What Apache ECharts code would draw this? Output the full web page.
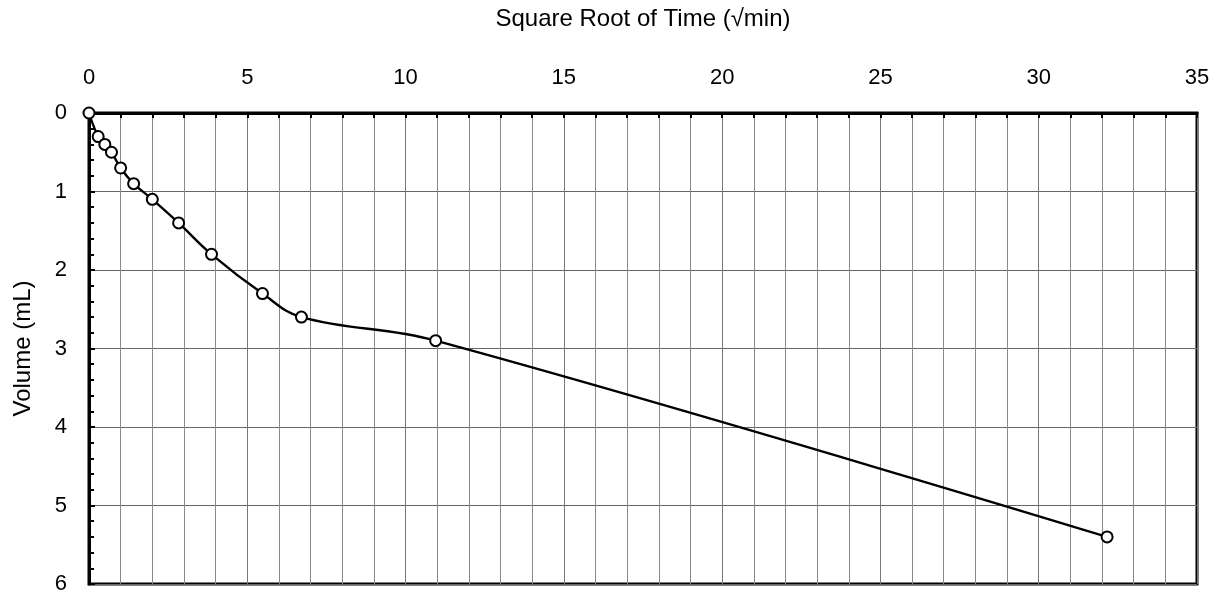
<!DOCTYPE html>
<html>
<head>
<meta charset="utf-8">
<script src="https://cdn.jsdelivr.net/npm/echarts@6/dist/echarts.min.js"></script>
<style>
  html, body { margin: 0; padding: 0; background: #fff; }
  #chart { width: 1223px; height: 595px; }
</style>
</head>
<body>
<div id="chart"></div>
<script>
// data
const sqrtTime = [0, 0.29, 0.5, 0.71, 1.0, 1.41, 2.0, 2.83, 3.87, 5.48, 6.71, 10.95, 32.16];
const volume = [0, 0.3, 0.4, 0.5, 0.7, 0.9, 1.1, 1.4, 1.8, 2.3, 2.6, 2.9, 5.4];
const xTitle = "Square Root of Time (\u221Amin)";
const yTitle = "Volume (mL)";

const points = sqrtTime.map((x, i) => [x, volume[i]]);
const font = "Liberation Sans";

const chart = echarts.init(document.getElementById("chart"));
chart.setOption({
  animation: false,
  textStyle: { fontFamily: font },
  grid: {
    left: 89, top: 113, right: 26, bottom: 11,
    outerBoundsMode: "none",
    show: true, borderColor: "#000", borderWidth: 3
  },
  xAxis: {
    type: "value",
    position: "top",
    min: 0, max: 35, interval: 5,
    name: xTitle,
    nameLocation: "middle",
    nameGap: 82,
    nameTextStyle: { fontSize: 24, color: "#000", fontFamily: font },
    axisLine: { lineStyle: { color: "#000", width: 3 } },
    axisTick: { inside: true, length: 5, lineStyle: { color: "#000", width: 2 } },
    minorTick: { show: true, splitNumber: 5, length: 5, lineStyle: { color: "#000", width: 2 } },
    axisLabel: { fontSize: 22, color: "#000", margin: 24, fontFamily: font },
    splitLine: { show: true, lineStyle: { color: "#777", width: 1 } },
    minorSplitLine: { show: true, lineStyle: { color: "#888", width: 1 } }
  },
  yAxis: {
    type: "value",
    inverse: true,
    min: 0, max: 6, interval: 1,
    name: yTitle,
    nameLocation: "middle",
    nameGap: 54,
    nameRotate: 90,
    nameTextStyle: { fontSize: 24, color: "#000", fontFamily: font },
    axisLine: { show: true, lineStyle: { color: "#000", width: 3 } },
    axisTick: { show: true, inside: true, length: 6, lineStyle: { color: "#000", width: 2 } },
    minorTick: { show: true, splitNumber: 5, length: 5, lineStyle: { color: "#000", width: 2 } },
    axisLabel: { fontSize: 22, color: "#000", margin: 22, fontFamily: font },
    splitLine: { show: true, lineStyle: { color: "#666", width: 1 } }
  },
  series: [{
    type: "line",
    data: points,
    smooth: 0.4,
    clip: false,
    symbol: "circle",
    symbolSize: 11,
    itemStyle: { color: "#fff", borderColor: "#000", borderWidth: 2 },
    lineStyle: { color: "#000", width: 2.4 },
    z: 5
  }]
});
</script>
</body>
</html>
